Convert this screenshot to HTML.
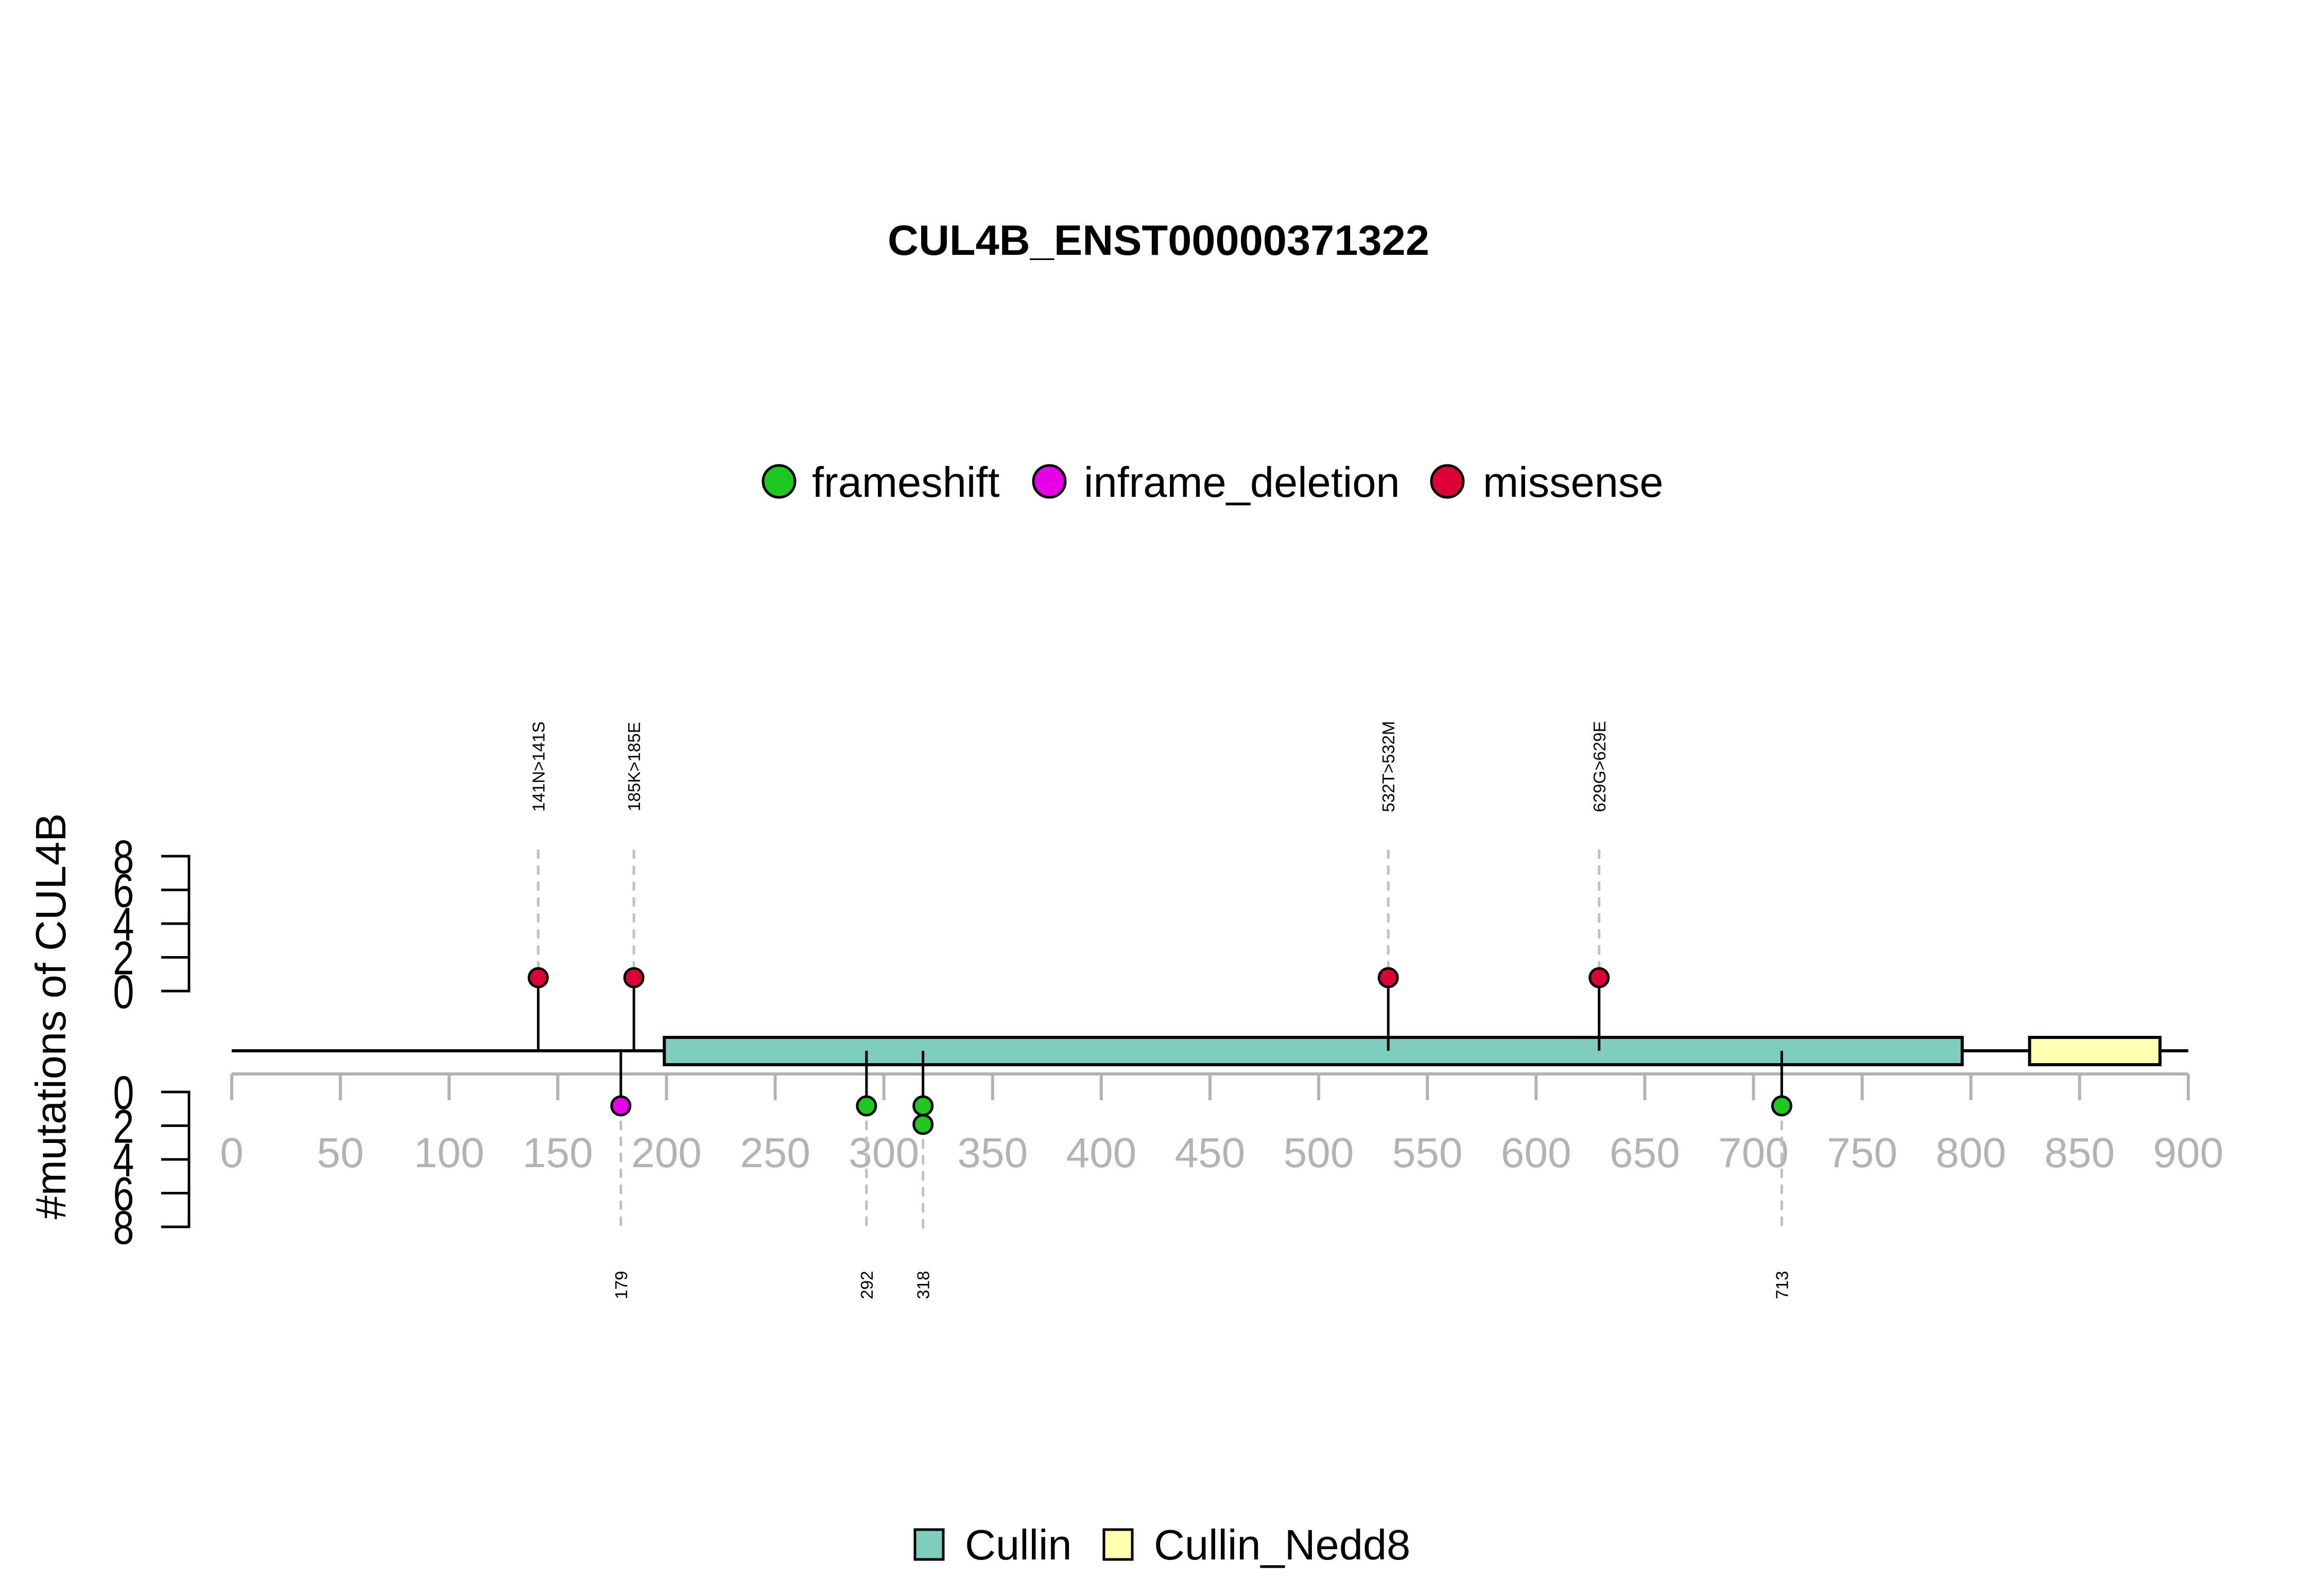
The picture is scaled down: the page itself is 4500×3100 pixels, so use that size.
<!DOCTYPE html>
<html><head><meta charset="utf-8"><style>
html,body{margin:0;padding:0;background:#fff;}
svg{display:block;font-family:"Liberation Sans",Arial,sans-serif;}
</style></head><body>
<svg id="chart" width="4500" height="3100" viewBox="0 0 4500 3100" xmlns="http://www.w3.org/2000/svg">
<rect width="4500" height="3100" fill="#fff"/>
<text x="2250" y="495" text-anchor="middle" font-size="83" font-weight="bold">CUL4B_ENST00000371322</text>
<g>
 <g><circle cx="1513" cy="935" r="31" fill="#1ec81e" stroke="#000" stroke-width="5"/><text x="1577" y="965" font-size="83">frameshift</text></g>
 <g><circle cx="2038" cy="935" r="31" fill="#e600e6" stroke="#000" stroke-width="5"/><text x="2105" y="965" font-size="83">inframe_deletion</text></g>
 <g><circle cx="2811" cy="935" r="31" fill="#dc0037" stroke="#000" stroke-width="5"/><text x="2880" y="965" font-size="83">missense</text></g>
</g>
<text transform="translate(127,1974) rotate(-90)" text-anchor="middle" font-size="83">#mutations of CUL4B</text>
<g id="yaxes"></g>
<g id="xaxis"></g>
<g id="protein"></g>
<g id="muts"></g>
<g>
 <g><rect x="1777" y="2971" width="55" height="58" fill="#7fcdbb" stroke="#000" stroke-width="5"/><text x="1874" y="3029" font-size="83">Cullin</text></g>
 <g><rect x="2144" y="2971" width="55" height="58" fill="#ffffb2" stroke="#000" stroke-width="5"/><text x="2241" y="3029" font-size="83">Cullin_Nedd8</text></g>
</g>
</svg>
<script>
const xTicks = [0,50,100,150,200,250,300,350,400,450,500,550,600,650,700,750,800,850,900];
const yTicks = [0,2,4,6,8];
const proteinLength = 900;
const domainNames = ["Cullin","Cullin_Nedd8"];
const domainStart = [199,827];
const domainEnd = [796,887];
const domainColor = ["#7fcdbb","#ffffb2"];
const upPos = [141,185,532,629];
const upCount = [1,1,1,1];
const upLabel = ["141N>141S","185K>185E","532T>532M","629G>629E"];
const upType = ["missense","missense","missense","missense"];
const downPos = [179,292,318,713];
const downCount = [1,1,2,1];
const downLabel = ["179","292","318","713"];
const downType = ["inframe_deletion","frameshift","frameshift","frameshift"];
const typeColor = {frameshift:"#1ec81e",inframe_deletion:"#e600e6",missense:"#dc0037"};

const NS="http://www.w3.org/2000/svg";
const X = v => 450 + v*(3800/900);
const YU = v => 1925 - v*(262/8);
const YD = v => 2121 + v*(262/8);
const BB = 2041;
const PU = c => 1899 - (c-1)*36;
const PD = c => 2148 + (c-1)*36;
function mk(p,tag,a){const e=document.createElementNS(NS,tag);for(const k in a)e.setAttribute(k,a[k]);p.appendChild(e);return e;}

const ya=document.getElementById('yaxes');
[[YU,'upper'],[YD,'lower']].forEach(([f,nm])=>{
  const ln=mk(ya,'path',{d:`M313 ${f(0)}H367V${f(8)}H313`,fill:'none',stroke:'#000','stroke-width':5});
  
  
  yTicks.forEach(t=>{
    const tk=mk(ya,'line',{x1:313,x2:367,y1:f(t),y2:f(t),stroke:'#000','stroke-width':5});
    
    
    const tl=mk(ya,'text',{transform:`translate(240,${f(t)+33}) scale(0.8,1)`,'text-anchor':'middle','font-size':92});
    tl.textContent=t;
    
    
  });
});

const xa=document.getElementById('xaxis');
const al=mk(xa,'line',{x1:X(0),x2:X(proteinLength),y1:2086,y2:2086,stroke:'#b3b3b3','stroke-width':6});


xTicks.forEach(t=>{
  const tk=mk(xa,'line',{x1:X(t),x2:X(t),y1:2086,y2:2137,stroke:'#b3b3b3','stroke-width':6});
  
  
  const tl=mk(xa,'text',{x:X(t),y:2267,'text-anchor':'middle','font-size':82,fill:'#b3b3b3'});
  tl.textContent=t;
  
  
});

const pr=document.getElementById('protein');
const bb=mk(pr,'line',{x1:X(0),x2:X(proteinLength),y1:BB,y2:BB,stroke:'#000','stroke-width':6});


domainNames.forEach((n,i)=>{
  const r=mk(pr,'rect',{x:X(domainStart[i]),y:2015,width:X(domainEnd[i])-X(domainStart[i]),height:53,fill:domainColor[i],stroke:'#000','stroke-width':6});
  
  
});

const mu=document.getElementById('muts');
upPos.forEach((p,i)=>{
  const x=X(p), top=PU(upCount[i]);
  const d=mk(mu,'line',{x1:x,x2:x,y1:1652,y2:top,stroke:'#c0c0c0','stroke-width':5,'stroke-dasharray':'14 17','stroke-linecap':'round'});
  
  
  const s=mk(mu,'line',{x1:x,x2:x,y1:BB,y2:PU(1),stroke:'#000','stroke-width':5});
  
  
  for(let c=1;c<=upCount[i];c++){
    const pt=mk(mu,'circle',{cx:x,cy:PU(c),r:18,fill:typeColor[upType[i]],stroke:'#000','stroke-width':5});
    
    
  }
  const t=mk(mu,'text',{transform:`translate(${x+12},1489) rotate(-90)`,'text-anchor':'middle','font-size':33});
  t.textContent=upLabel[i];
  
  
});
downPos.forEach((p,i)=>{
  const x=X(p), bot=PD(downCount[i]);
  const d=mk(mu,'line',{x1:x,x2:x,y1:bot,y2:2394,stroke:'#c0c0c0','stroke-width':5,'stroke-dasharray':'14 17','stroke-linecap':'round'});
  
  
  const s=mk(mu,'line',{x1:x,x2:x,y1:BB,y2:PD(1),stroke:'#000','stroke-width':5});
  
  
  for(let c=1;c<=downCount[i];c++){
    const pt=mk(mu,'circle',{cx:x,cy:PD(c),r:18,fill:typeColor[downType[i]],stroke:'#000','stroke-width':5});
    
    
  }
  const t=mk(mu,'text',{transform:`translate(${x+12},2496) rotate(-90)`,'text-anchor':'middle','font-size':33});
  t.textContent=downLabel[i];
  
  
});
</script>
</body></html>
